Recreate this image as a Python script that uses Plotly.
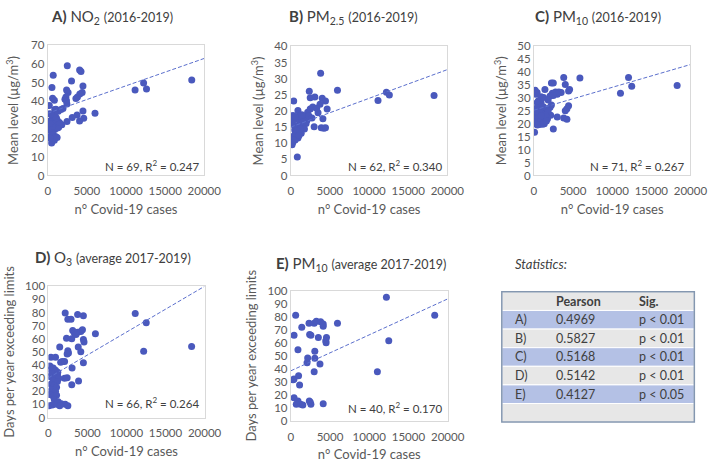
import plotly.graph_objects as go

W, H = 723, 467

# ---------------- data ----------------
A_x = [700, 2500, 4075, 4250, 3040, 540, 4500, 2410, 2600, 2330, 2200, 2400, 2450, 620, 850,
       4400, 4100, 3800, 3600, 200, 1950, 900, 1050, 4500, 6040, 250, 3750, 3130, 4600, 4070,
       2460, 1800, 1300, 350, 600, 750, 1000, 1200, 150, 450, 800, 1100, 1400, 1600, 300,
       550, 900, 1250, 200, 650, 1000, 1200, 500, 850, 400, 700, 1500, 11160, 12250, 12620,
       18400, 950, 450, 1350, 1700, 300, 600, 1100, 250]
A_y = [54, 59, 56.8, 55.9, 50.8, 47.4, 48.2, 46, 44.6, 42.2, 41, 40.2, 38.5, 41.5, 40.5,
       44.6, 43.9, 42.2, 41.4, 37.6, 36, 35.5, 35.6, 34.7, 33.5, 33.2, 32.5, 31.2, 30.8, 29.3,
       29, 27.3, 27, 29.5, 30.5, 32, 28.5, 29.8, 26.5, 27, 26, 26.5, 26, 27.5, 24.5,
       23.5, 24.8, 25.5, 21, 22, 21, 20.5, 17.5, 19, 25.5, 28, 28.5, 46, 49.8, 46.5,
       51.4, 34, 33, 34.5, 35.5, 20, 26.5, 31, 28]

B_x = [3810, 5960, 2360, 18300, 11140, 12210, 12590, 370, 2480, 3070, 4010, 4430, 3730, 4640,
       3480, 4100, 3890, 4220, 4430, 2980, 2480, 2150, 1820, 2070, 1660, 290, 910, 60, 700,
       1120, 1330, 910, 1530, 500, 1120, 700, 290, 80, 160, 830, 1950, 1740, 1330, 910, 200,
       450, 600, 400, 150, 250, 1000, 1400, 2800, 2300, 600, 1200, 800, 3300, 1600, 550,
       2700, 1050]
B_y = [31.7, 26.4, 26.1, 24.8, 23.2, 25.8, 24.9, 23.1, 24.1, 24.3, 23.9, 23.1, 22.1, 20.6,
       19.4, 17.6, 14.8, 14.6, 14.8, 15.1, 20.6, 19.6, 18.1, 17.1, 17.1, 18.6, 20.1, 17.7, 17.4,
       17.1, 16.1, 15.4, 14.8, 14.1, 13.6, 12.5, 11.6, 10.6, 9.5, 5.7, 16.1, 14.4, 13.1, 11.6, 16.8,
       15.5, 13.2, 12.3, 11, 10.2, 18.4, 18.8, 21.2, 18.5, 18.1, 14.5, 13.8, 20.8, 16.5, 11,
       17.8, 12.4]

C_x = [3810, 5880, 12090, 12500, 18300, 11060, 2240, 2480, 4010, 4560, 4430, 1410, 160, 410,
       250, 2770, 3190, 3480, 2980, 2360, 2070, 2480, 910, 580, 910, 410, 1240, 1820, 2240,
       2070, 4430, 4220, 4010, 2150, 2980, 3810, 4220, 2480, 80, 80, 330, 910, 290, 700, 1240,
       1530, 160, 580, 990, 160, 700, 1330, 410, 1120, 1740, 830, 1820, 500, 1000, 250, 600,
       850, 1100, 1500, 400, 700, 1200, 200, 450, 950, 1600]
C_y = [37.8, 37.6, 37.8, 34.4, 34.7, 31.7, 35.7, 35.7, 35.1, 33.2, 32.6, 33.2, 32.9, 32,
       31.3, 32.2, 32.2, 32, 31.3, 31.7, 30.7, 30.9, 30.4, 28.8, 28.2, 28.2, 30.1, 29.1, 27.2,
       26.3, 26.9, 25.7, 25, 23.2, 22.6, 22.2, 21.7, 17.9, 16.7, 25.7, 25, 25.4, 23.8, 23.4, 24.2,
       25.7, 21.9, 21.3, 20.9, 20, 19.7, 20, 22.9, 22.6, 21.9, 26.3, 25, 24.4, 24, 20.5, 22.3,
       21.2, 19.8, 23.2, 26, 25.5, 26.5, 24.8, 19.5, 23, 21]

D_x = [2150, 2490, 2900, 3740, 4480, 11120, 12530, 18340, 12200, 6020, 3110, 3320, 3740, 4150,
       4360, 2990, 3530, 2320, 4480, 4560, 1450, 3820, 4150, 2490, 2570, 2400, 4480, 3030, 1780,
       1570, 2070, 330, 910, 2070, 2400, 2990, 3860, 200, 620, 330, 910, 1200, 410, 1160, 200,
       830, 1330, 620, 1160, 330, 750, 1040, 410, 910, 200, 620, 1040, 750, 1250, 80, 500,
       1040, 1660, 2150, 2490, 1450]
D_y = [79.7, 74.8, 74.8, 78.5, 77.5, 79.3, 72.3, 54.1, 50.6, 63.9, 66.4, 64.4, 64.9, 65.6,
       66.9, 60, 63.2, 60.4, 59.5, 57.5, 53.8, 53.8, 50.1, 50.8, 49.1, 48.4, 41.7, 37.8, 42.7,
       42.2, 42.7, 45.9, 45.9, 29.9, 30.4, 24.9, 27.9, 39.3, 37.8, 36.7, 36, 34.5, 33.6, 32.8, 31.1,
       30.4, 29.9, 27.9, 27.4, 25.4, 24.4, 23, 21.2, 20, 17.5, 16.3, 17, 13.8, 12.1, 8.9, 9.6,
       10.1, 10.6, 10.1, 8.9, 8.9]

E_x = [12190, 18350, 620, 2320, 2980, 3260, 3800, 4130, 4130, 5950, 1400, 410, 2400, 2560,
       3510, 4550, 4460, 4500, 12490, 910, 3060, 2150, 2070, 3060, 3720, 2980, 11040, 410, 990,
       1120, 410, 910, 1240, 1530, 2360, 2480, 2560, 4130, 700, 300]
E_y = [94.8, 81.1, 81.1, 74.9, 74.9, 76.4, 76.1, 74.4, 72.7, 74.9, 71.9, 65.7, 66.2, 65.7,
       64, 64, 61.5, 60, 61.5, 54.5, 53.5, 48.3, 44.6, 48.1, 43.6, 37.6, 37.6, 32.1, 34.6,
       27.6, 17.7, 15.2, 12.7, 12.2, 15.2, 14.2, 12.7, 13.2, 12.7, 31.5]

# dashed linear trend lines: value at x = 0 and at x = 20000
trend_x = [0, 20000]
trend_A = [33.5, 63.0]
trend_B = [15.0, 32.8]
trend_C = [25.2, 42.8]
trend_D = [30.2, 100.0]
trend_E = [38.4, 93.6]

fit_labels = ["N = 69, R<sup>2</sup> = 0.247", "N = 62, R<sup>2</sup> = 0.340",
              "N = 71, R<sup>2</sup> = 0.267", "N = 66, R<sup>2</sup> = 0.264",
              "N = 40, R<sup>2</sup> = 0.170"]
titles = ["<b>A)</b> NO<sub>2</sub> <span style='font-size:12.5px'>(2016-2019)</span>",
          "<b>B)</b> PM<sub>2.5</sub> <span style='font-size:12.5px'>(2016-2019)</span>",
          "<b>C)</b> PM<sub>10</sub> <span style='font-size:12.5px'>(2016-2019)</span>",
          "<b>D)</b> O<sub>3</sub> <span style='font-size:12.5px'>(average 2017-2019)</span>",
          "<b>E)</b> PM<sub>10</sub> <span style='font-size:12.5px'>(average 2017-2019)</span>"]
y_titles = ["Mean level (µg/m<sup>3</sup>)"] * 3 + ["Days per year exceeding limits"] * 2
y_max = [70, 40, 50, 100, 100]
y_step = [10, 5, 5, 10, 10]
x_ticks = [0, 5000, 10000, 15000, 20000]
x_title = "n° Covid-19 cases"

tbl_rows = ["A)", "B)", "C)", "D)", "E)", ""]
tbl_pearson = ["0.4969", "0.5827", "0.5168", "0.5142", "0.4127", ""]
tbl_sig = ["p < 0.01", "p < 0.01", "p < 0.01", "p < 0.01", "p < 0.05", ""]
tbl_header = ["", "<b>Pearson</b>", "<b>Sig.</b>"]

# ---------------- layout geometry (pixels) ----------------
boxes = [  # left, right, top, bottom
    (46, 207, 39.5, 173.3),
    (296, 457, 40.5, 173.3),
    (546, 707, 40, 173.3),
    (46.7, 207.3, 287.3, 422.3),
    (296, 457.3, 291.7, 425.7),
]
title_pos = [(112, 10), (360, 10), (612, 10), (113, 258), (368, 264)]
ann_pos = [(0.98, 0.077), (0.977, 0.075), (0.973, 0.075), (0.98, 0.115), (0.975, 0.104)]
ytitle_standoff = [9, 7, 7, 7, 7]

FONT = "Lato, 'Open Sans', sans-serif"
GREY = "#595959"
MARK = "#4a59bd"
LINE = "#5b6fcc"

xs = [A_x, B_x, C_x, D_x, E_x]
ys = [A_y, B_y, C_y, D_y, E_y]
trends = [trend_A, trend_B, trend_C, trend_D, trend_E]

fig = go.Figure()
layout = dict(width=W, height=H, margin=dict(l=0, r=0, t=0, b=0), autosize=False,
              paper_bgcolor="white", plot_bgcolor="white", showlegend=False,
              font=dict(family=FONT, size=11, color=GREY))
annotations = []
shapes = []
for i in range(5):
    n = "" if i == 0 else str(i + 1)
    xa, ya = "x" + n, "y" + n
    l, r, t, b = boxes[i]
    fig.add_trace(go.Scatter(x=xs[i], y=ys[i], mode="markers", xaxis=xa, yaxis=ya,
                             marker=dict(size=7, color=MARK), hoverinfo="skip"))
    fig.add_trace(go.Scatter(x=trend_x, y=trends[i], mode="lines", xaxis=xa, yaxis=ya,
                             line=dict(color=LINE, width=1, dash="4px,2px"), hoverinfo="skip"))
    layout["xaxis" + n] = dict(domain=[l / W, r / W], anchor=ya, range=[0, 20000],
                               tickvals=x_ticks, ticktext=[str(v) for v in x_ticks],
                               showgrid=False, zeroline=False, showline=True, mirror=True,
                               linecolor="#d9d9d9", linewidth=1, ticks="", ticklabelstandoff=5,
                               tickfont=dict(size=11.5, color=GREY),
                               title=dict(text=x_title, font=dict(size=13, color=GREY), standoff=8))
    layout["yaxis" + n] = dict(domain=[1 - b / H, 1 - t / H], anchor=xa, range=[0, y_max[i]],
                               dtick=y_step[i], showgrid=False, zeroline=False, showline=True,
                               mirror=True, linecolor="#d9d9d9", linewidth=1, ticks="",
                               tickfont=dict(size=11.5, color=GREY),
                               title=dict(text=y_titles[i], font=dict(size=13, color=GREY),
                                          standoff=ytitle_standoff[i]))
    annotations.append(dict(text=fit_labels[i], xref=xa + " domain", yref=ya + " domain",
                            x=ann_pos[i][0], y=ann_pos[i][1], xanchor="right", yanchor="middle",
                            showarrow=False, font=dict(size=11.5, color="#404040")))
    tx, ty = title_pos[i]
    annotations.append(dict(text=titles[i], xref="paper", yref="paper", x=tx / W, y=1 - ty / H,
                            xanchor="center", yanchor="middle", showarrow=False,
                            font=dict(size=15, color="#404040")))

annotations.append(dict(text="<i>Statistics:</i>", xref="paper", yref="paper", x=524 / W,
                        y=1 - 264 / H, xanchor="left", yanchor="middle", showarrow=False,
                        font=dict(size=13, color="#404040")))

# ---------------- statistics table (shapes + text built from the table arrays) ----------------
BLUE_ROW, GREY_ROW = "#b4c1e5", "#e7e7e7"
tl, tr, tt, tb = 513, 711, 293, 427
n_rows = 1 + len(tbl_rows)
row_h = (tb - tt) / n_rows
col_x = [524, 567, 652]
for k in range(n_rows):
    y0 = tt + k * row_h
    fill = GREY_ROW if k == 0 else ([BLUE_ROW, GREY_ROW][(k - 1) % 2])
    shapes.append(dict(type="rect", xref="paper", yref="paper", x0=tl / W, x1=tr / W,
                       y0=1 - (y0 + row_h) / H, y1=1 - y0 / H, fillcolor=fill,
                       line=dict(color="white", width=1), layer="below"))
    cells = tbl_header if k == 0 else [tbl_rows[k - 1], tbl_pearson[k - 1], tbl_sig[k - 1]]
    for c, txt in enumerate(cells):
        if txt == "":
            continue
        annotations.append(dict(text=txt.replace("<", "&lt;") if "<b>" not in txt else txt,
                                xref="paper", yref="paper", x=col_x[c] / W,
                                y=1 - (y0 + row_h / 2) / H, xanchor="left", yanchor="middle",
                                showarrow=False, font=dict(size=12.5, color="#404040")))
shapes.append(dict(type="rect", xref="paper", yref="paper", x0=tl / W, x1=tr / W,
                   y0=1 - tb / H, y1=1 - tt / H, line=dict(color="#8497b0", width=1.5)))

layout["shapes"] = shapes
layout["annotations"] = annotations
fig.update_layout(**layout)
fig.write_html("out.html", config={"displayModeBar": False},
               post_script="document.body.style.margin='0px';")
